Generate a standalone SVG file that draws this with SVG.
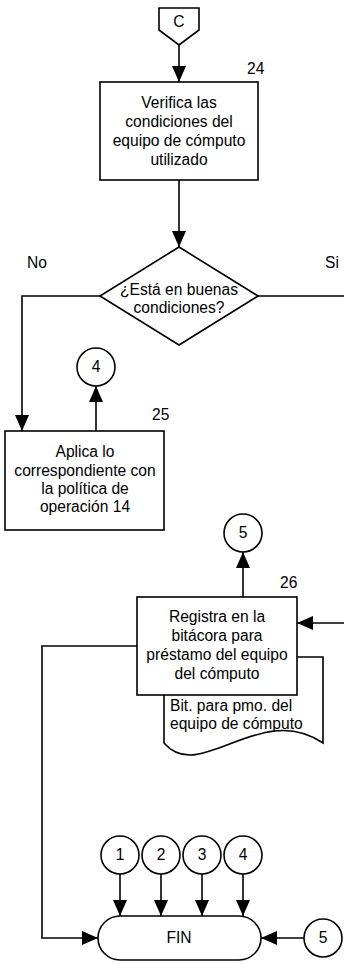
<svg xmlns="http://www.w3.org/2000/svg" width="344" height="964" viewBox="0 0 344 964">
<style>
.s{fill:#fff;stroke:#000;stroke-width:1.6}
.c{fill:none;stroke:#000;stroke-width:1.6}
text{font-family:"Liberation Sans",Arial,sans-serif;font-size:15.6px;fill:#000}
.m{text-anchor:middle}
</style>
<defs>
<marker id="a" markerUnits="userSpaceOnUse" markerWidth="17" markerHeight="14" refX="16" refY="7" orient="auto">
<path d="M0,0 L16,7 L0,14 z" fill="#000"/>
</marker>
</defs>
<rect width="344" height="964" fill="#fff"/>
<g id="connectors">
<path class="c" d="M179,45 V82" marker-end="url(#a)"/>
<path class="c" d="M179,180 V247" marker-end="url(#a)"/>
<path class="c" d="M100,296 H22 V431" marker-end="url(#a)"/>
<path class="c" d="M96,431 V386" marker-end="url(#a)"/>
<path class="c" d="M258,296 H344"/>
<path class="c" d="M344,623 H297" marker-end="url(#a)"/>
<path class="c" d="M243,597 V552" marker-end="url(#a)"/>
<path class="c" d="M137,646 H42 V938 H98" marker-end="url(#a)"/>
<path class="c" d="M120,874 V916" marker-end="url(#a)"/>
<path class="c" d="M161,874 V916" marker-end="url(#a)"/>
<path class="c" d="M202,874 V916" marker-end="url(#a)"/>
<path class="c" d="M243,874 V916" marker-end="url(#a)"/>
<path class="c" d="M304,938 H261" marker-end="url(#a)"/>
</g>
<g id="offpage-C">
<path class="s" d="M159,8 H199 V30 L179,45 L159,30 Z"/>
<text class="m" x="179" y="27">C</text>
</g>
<g id="n24">
<rect class="s" x="100" y="82" width="158" height="98"/>
<text class="m" x="179" y="108">Verifica las</text>
<text class="m" x="179" y="127">condiciones del</text>
<text class="m" x="179" y="146">equipo de cómputo</text>
<text class="m" x="179" y="165">utilizado</text>
<text x="247" y="74">24</text>
</g>
<g id="decision">
<path class="s" d="M179,247 L258,296 L179,345 L100,296 Z"/>
<text class="m" x="179" y="295">¿Está en buenas</text>
<text class="m" x="179" y="313">condiciones?</text>
</g>
<g id="label-no"><text x="27" y="268">No</text></g>
<g id="label-si"><text x="325" y="268">Si</text></g>
<g id="conn4a">
<circle class="s" cx="96" cy="367" r="19"/>
<text class="m" x="96" y="372">4</text>
</g>
<g id="n25">
<rect class="s" x="5" y="431" width="159" height="99"/>
<text class="m" x="85" y="457">Aplica lo</text>
<text class="m" x="85" y="476">correspondiente con</text>
<text class="m" x="85" y="494">la política de</text>
<text class="m" x="85" y="512">operación 14</text>
<text x="152" y="420">25</text>
</g>
<g id="conn5a">
<circle class="s" cx="243" cy="533" r="19"/>
<text class="m" x="243" y="538">5</text>
</g>
<g id="doc">
<path class="s" d="M164,657 H323 V743 C260,700 200,785 164,743 Z"/>
<text x="170" y="711">Bit. para pmo. del</text>
<text x="170" y="729">equipo de cómputo</text>
</g>
<g id="n26">
<rect class="s" x="137" y="597" width="160" height="98"/>
<text class="m" x="217" y="622">Registra en la</text>
<text class="m" x="217" y="641">bitácora para</text>
<text class="m" x="217" y="660">préstamo del equipo</text>
<text class="m" x="217" y="679">del cómputo</text>
<text x="280" y="588">26</text>
</g>
<g id="c1"><circle class="s" cx="120" cy="855" r="19"/><text class="m" x="120" y="860">1</text></g>
<g id="c2"><circle class="s" cx="161" cy="855" r="19"/><text class="m" x="161" y="860">2</text></g>
<g id="c3"><circle class="s" cx="202" cy="855" r="19"/><text class="m" x="202" y="860">3</text></g>
<g id="c4"><circle class="s" cx="243" cy="855" r="19"/><text class="m" x="243" y="860">4</text></g>
<g id="c5"><circle class="s" cx="323" cy="938" r="19"/><text class="m" x="323" y="943">5</text></g>
<g id="fin">
<rect class="s" x="98" y="916" width="163" height="44" rx="22" ry="22"/>
<text class="m" x="179" y="943">FIN</text>
</g>
</svg>
